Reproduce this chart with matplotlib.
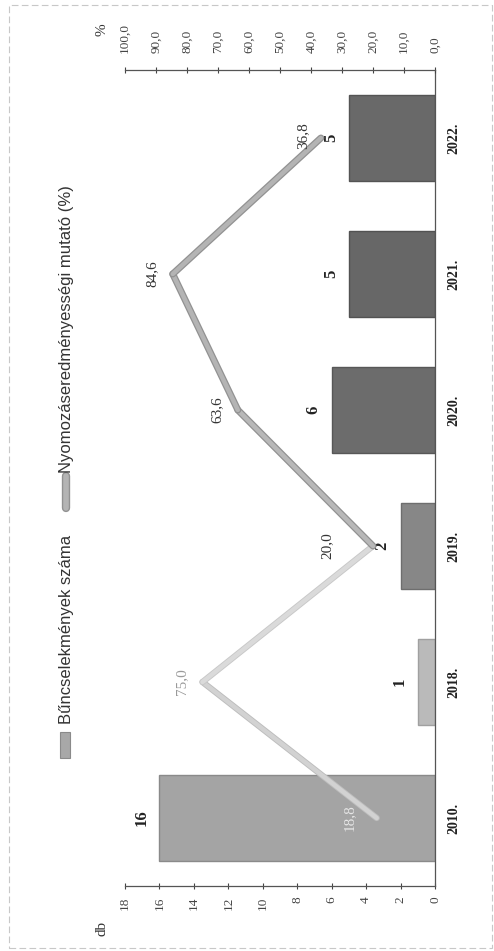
import matplotlib
matplotlib.use("Agg")
import matplotlib.pyplot as plt
from matplotlib.patches import Rectangle
from matplotlib.lines import Line2D
import matplotlib.patheffects as pe
from matplotlib.ticker import FuncFormatter

plt.rcParams['font.family'] = ['Liberation Serif', 'DejaVu Serif']

years = ["2010.", "2018.", "2019.", "2020.", "2021.", "2022."]
counts = [16, 1, 2, 6, 5, 5]
ratio = [18.8, 75.0, 20.0, 63.6, 84.6, 36.8]
ratio_labels = ["18,8", "75,0", "20,0", "63,6", "84,6", "36,8"]
db_ticks = [0, 2, 4, 6, 8, 10, 12, 14, 16, 18]
pct_ticks = [0, 10, 20, 30, 40, 50, 60, 70, 80, 90, 100]
legend_bar = "Bűncselekmények száma"
legend_line = "Nyomozáseredményességi mutató (%)"

bar_colors = ["#a4a4a4", "#bababa", "#878787", "#6c6c6c", "#676767", "#696969"]
bar_edges = ["#8a8a8a", "#a0a0a0", "#6e6e6e", "#575757", "#525252", "#545454"]

W, H = 494, 951
fig = plt.figure(figsize=(W / 100, H / 100), dpi=100)
fig.patch.set_facecolor("white")

# axes in figure pixel geometry
x_left, x_right = 125, 435
y_top, y_bot = 70, 886
ax = fig.add_axes([x_left / W, 1 - y_bot / H, (x_right - x_left) / W, (y_bot - y_top) / H])
pos = list(range(len(years)))

ax.barh(pos, counts, height=0.63, color=bar_colors, edgecolor=bar_edges, linewidth=1.0, zorder=2)
ax.set_xlim(18, 0)
ax.set_ylim(-0.5, len(years) - 0.5)
ax.set_xticks(db_ticks)
ax.set_xticklabels([str(t) for t in db_ticks], rotation=90, fontsize=9.5, color="#333333")
ax.tick_params(axis="x", direction="inout", length=5, width=0.8, pad=5, colors="#444444")
ax.yaxis.tick_right()
ax.set_yticks(pos)
ax.set_yticklabels(years, rotation=90, fontsize=10, fontweight="bold", color="#222222", va="center")
ax.tick_params(axis="y", length=0, pad=9)
for s in ["left", "top"]:
    ax.spines[s].set_visible(False)
ax.spines["bottom"].set_color("#555555")
ax.spines["right"].set_color("#555555")
ax.spines["bottom"].set_linewidth(0.9)
ax.spines["right"].set_linewidth(0.9)
ax.set_facecolor("none")

for p, c in zip(pos, counts):
    ax.annotate(str(c), xy=(c, p), xytext=(-13, 0), textcoords="offset points",
                rotation=90, ha="center", va="center", fontsize=12, fontweight="bold",
                color="#222222", zorder=5)

ax2 = ax.twiny()
ax2.set_xlim(100, 0)
ax2.set_xticks(pct_ticks)
ax2.xaxis.set_major_formatter(FuncFormatter(lambda v, _: f"{v:.1f}".replace(".", ",")))
ax2.tick_params(axis="x", direction="inout", length=5, width=0.8, pad=10, colors="#444444",
                labelsize=9.5, labelrotation=90)
for s in ["left", "bottom", "right"]:
    ax2.spines[s].set_visible(False)
ax2.spines["top"].set_color("#555555")
ax2.spines["top"].set_linewidth(0.9)

line_fx = [pe.Stroke(linewidth=5, foreground="#929292"), pe.Normal()]
seg_colors = ["#d2d2d2", "#dadada", "#b8b8b8", "#b4b4b4", "#b4b4b4"]
seg_fx = [[pe.Stroke(linewidth=4.5, foreground="#bdbdbd"), pe.Normal()],
          [pe.Stroke(linewidth=4.5, foreground="#c8c8c8"), pe.Normal()],
          line_fx, line_fx, line_fx]
for i in range(len(ratio) - 1):
    ax2.plot(ratio[i:i + 2], pos[i:i + 2], color=seg_colors[i], lw=3.2,
             solid_capstyle="round", zorder=4, path_effects=seg_fx[i])

lbl_offsets = [(-20, 0), (-15, 0), (-33, 0), (-15, 0), (-15, 0), (-13, 2)]
lbl_colors = ["#e6e6e6", "#9a9a9a", "#333333", "#333333", "#333333", "#333333"]
for p, v, t, off, col in zip(pos, ratio, ratio_labels, lbl_offsets, lbl_colors):
    ax2.annotate(t, xy=(v, p), xytext=off, textcoords="offset points", rotation=90,
                 ha="center", va="center", fontsize=11, color=col, zorder=6)

# axis unit labels
fig.text(102 / W, 1 - 30 / H, "%", rotation=90, ha="center", va="center", fontsize=11, color="#333333")
fig.text(102 / W, 1 - 928 / H, "db", rotation=90, ha="center", va="center", fontsize=11, color="#333333")

# legend (drawn rotated)
legend_font = ['Liberation Sans', 'DejaVu Sans']
fig.patches.append(Rectangle((60 / W, 1 - 758 / H), 10 / W, 26 / H, transform=fig.transFigure,
                             facecolor="#a8a8a8", edgecolor="#8a8a8a", lw=0.8))
fig.text(66 / W, 1 - 724 / H, legend_bar, rotation=90, ha="center", va="bottom",
         fontsize=12, color="#333333", family=legend_font)
fig.lines.append(Line2D([66 / W, 66 / W], [1 - 508 / H, 1 - 476 / H], transform=fig.transFigure,
                        color="#b4b4b4", lw=4, solid_capstyle="round",
                        path_effects=[pe.Stroke(linewidth=6, foreground="#929292"), pe.Normal()]))
fig.text(66 / W, 1 - 473 / H, legend_line, rotation=90, ha="center", va="bottom",
         fontsize=12, color="#333333", family=legend_font)

# outer frame
fig.patches.append(Rectangle((9 / W, 1 - 948 / H), 483 / W, 943 / H, transform=fig.transFigure,
                             facecolor="none", edgecolor="#c8c8c8", lw=0.8, linestyle=(0, (6, 3))))

fig.savefig("out.png", dpi=100)
